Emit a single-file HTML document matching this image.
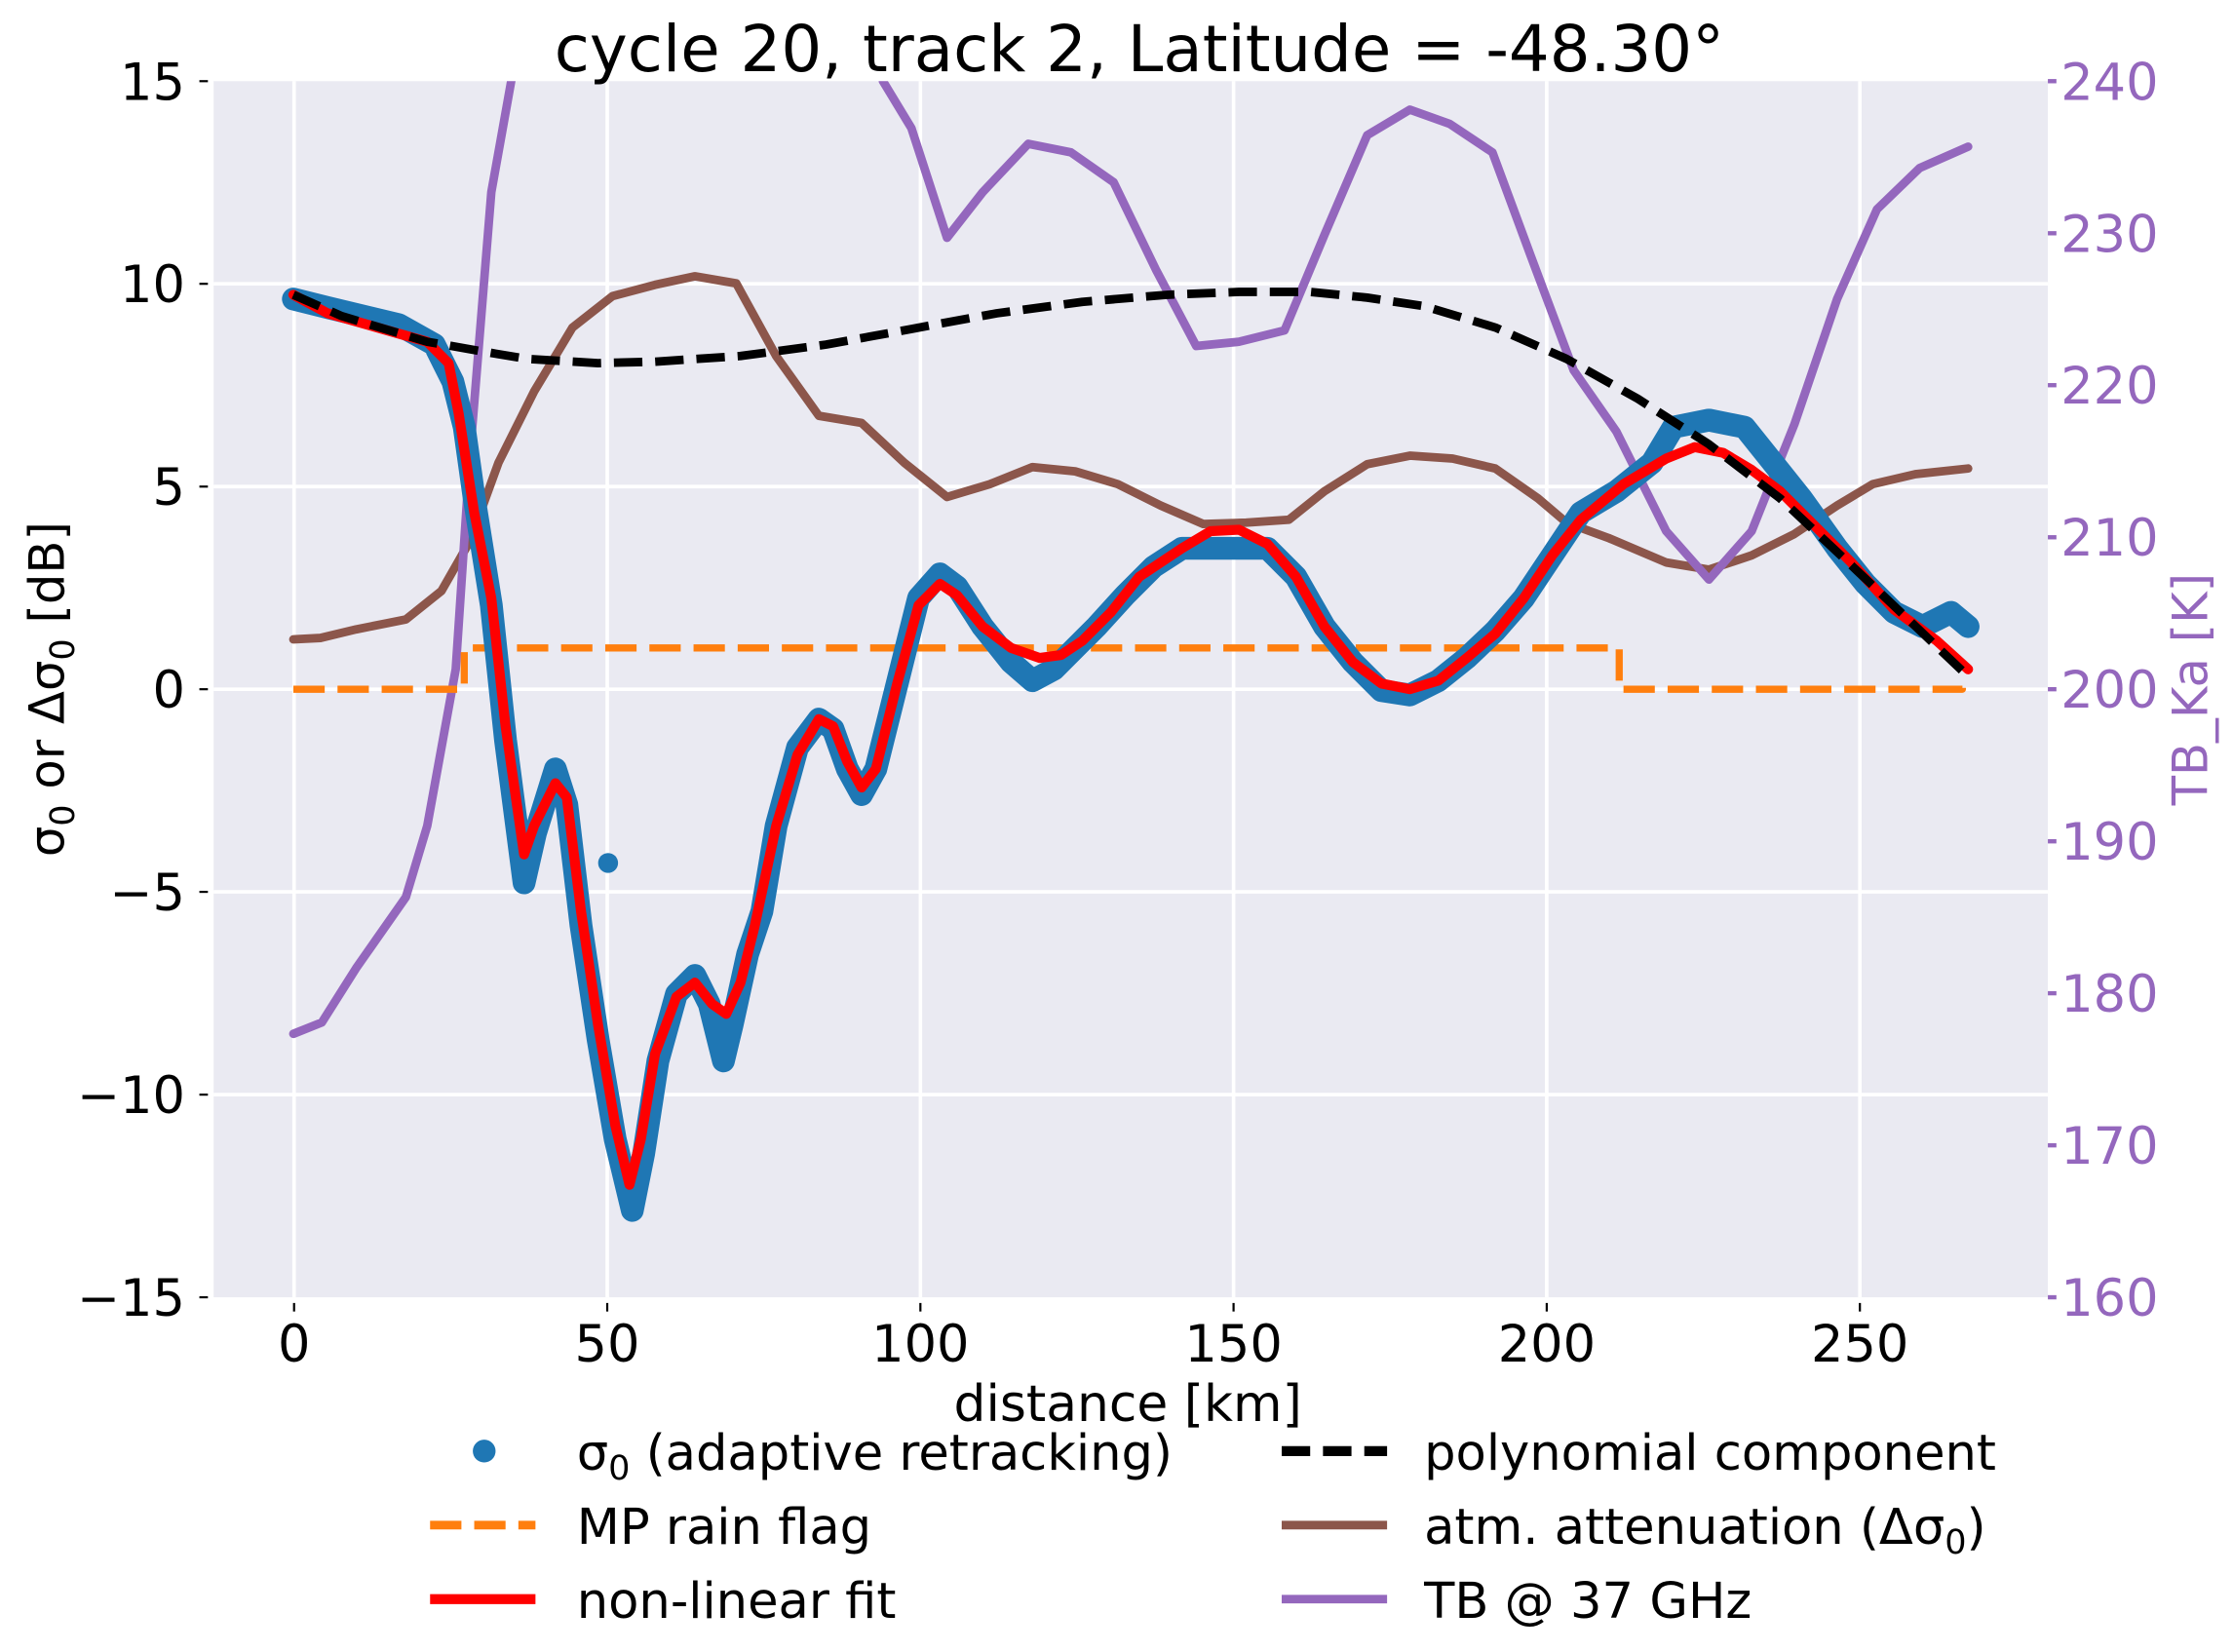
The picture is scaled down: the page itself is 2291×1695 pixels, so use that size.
<!DOCTYPE html>
<html><head><meta charset="utf-8"><style>
html,body{margin:0;padding:0;background:#fff;}
svg{display:block;}
text{font-family:"DejaVu Sans","Liberation Sans",sans-serif;}
</style></head><body>
<svg width="2291" height="1695" viewBox="0 0 1568 1160.1" preserveAspectRatio="none" xmlns="http://www.w3.org/2000/svg">
<defs><clipPath id="c"><rect x="150" y="57" width="1288" height="854"/></clipPath></defs>
<rect x="150" y="57" width="1288" height="854" fill="#eaeaf2"/>
<g stroke="#fff" stroke-width="2.5">
<line x1="206.5" y1="57" x2="206.5" y2="911"/><line x1="426.4" y1="57" x2="426.4" y2="911"/><line x1="646.3" y1="57" x2="646.3" y2="911"/><line x1="866.2" y1="57" x2="866.2" y2="911"/><line x1="1086.1" y1="57" x2="1086.1" y2="911"/><line x1="1306" y1="57" x2="1306" y2="911"/>
<line x1="150" y1="199.3" x2="1438" y2="199.3"/><line x1="150" y1="341.7" x2="1438" y2="341.7"/><line x1="150" y1="484" x2="1438" y2="484"/><line x1="150" y1="626.3" x2="1438" y2="626.3"/><line x1="150" y1="768.7" x2="1438" y2="768.7"/>
</g>
<g clip-path="url(#c)" fill="none" stroke-linejoin="round" stroke-linecap="round">
<path stroke="#8c564b" stroke-width="6" d="M206,449 L225,448 L250,442 L285,435 L310,415 L330,380 L350,325 L375,275 L402,230 L430,208 L460,200 L488,194 L517,199 L545,250 L575,292 L605,297 L635,325 L665,349 L695,340 L725,328 L755,331 L785,340 L815,355 L845,368 L875,367 L905,365 L930,345 L960,326 L990,320 L1020,322 L1050,329 L1080,350 L1100,367 L1130,378 L1170,395 L1200,400 L1230,390 L1260,375 L1290,355 L1315,340 L1345,333 L1382,329"/>
<path stroke="#9467bd" stroke-width="6" d="M206,726 L226,718 L250,680 L285,630 L300,580 L320,470 L330,320 L345,135 L362,40 L372,-100 L600,-100 L620,57 L640,90 L665,167 L690,135 L722,101 L752,107 L782,128 L812,190 L840,243 L870,240 L902,232 L930,165 L960,95 L990,77 L1018,87 L1048,107 L1075,180 L1105,260 L1135,303 L1170,373 L1200,407 L1230,373 L1260,298 L1290,210 L1318,147 L1348,118 L1382,103"/>
<path stroke="#ff7f0e" stroke-width="5" stroke-linecap="butt" stroke-dasharray="22,9" d="M206,484 L326,484 L326,455 L1137,455 L1137,484 L1378,484 L1378,476"/>
<path stroke="#1f77b4" stroke-width="16" d="M206,210 L230,216 L280,228 L305,242 L318,268 L326,300 L333,350 L345,425 L355,520 L368,620 L376,585 L390,540 L398,565 L408,650 L420,730 L432,800 L444,850 L452,810 L462,745 L475,698 L488,685 L498,705 L508,745 L514,720 L525,670 L535,640 L545,580 L560,525 L575,505 L585,512 L595,540 L605,558 L615,540 L630,480 L645,420 L660,403 L672,412 L690,440 L710,465 L725,478 L740,470 L755,455 L770,440 L790,418 L810,398 L830,385 L860,385 L890,385 L910,405 L930,440 L950,465 L970,485 L990,488 L1010,478 L1030,462 L1050,443 L1070,420 L1090,390 L1110,360 L1135,345 L1160,325 L1175,300 L1200,295 L1225,300 L1245,325 L1265,350 L1290,385 L1310,410 L1330,430 L1350,440 L1370,430 L1382,440"/>
<circle cx="427" cy="606" r="7" fill="#1f77b4" stroke="none"/>
<path stroke="#ff0000" stroke-width="7" d="M206,207 L230,220 L300,240 L315,255 L322,290 L333,360 L345,420 L355,510 L368,600 L375,580 L390,550 L398,560 L408,640 L420,720 L432,790 L442,832 L450,800 L460,740 L475,700 L488,690 L500,705 L510,712 L520,690 L530,650 L545,580 L560,530 L575,505 L585,510 L595,535 L605,553 L615,540 L630,480 L645,425 L660,410 L672,418 L690,440 L710,455 L730,462 L745,460 L760,450 L780,430 L800,405 L830,385 L850,373 L870,372 L890,382 L910,405 L930,440 L950,465 L970,480 L990,484 L1010,478 L1030,462 L1050,445 L1070,420 L1090,390 L1110,365 L1140,340 L1170,322 L1190,314 L1210,318 L1230,330 L1250,345 L1270,365 L1300,395 L1330,428 L1360,450 L1382,470"/>
<path stroke="#000" stroke-width="6" stroke-linecap="butt" stroke-dasharray="20,9" d="M206,207 L240,222 L300,240 L340,247 L370,252 L420,255 L460,254 L520,250 L580,242 L640,231 L700,220 L760,212 L820,207 L870,205 L920,205 L960,209 L1000,215 L1050,230 L1100,252 L1150,280 L1200,312 L1250,350 L1300,397 L1340,435 L1382,475"/>
</g>
<g stroke="#000" stroke-width="1.5">
<line x1="206.5" y1="915" x2="206.5" y2="921"/><line x1="426.4" y1="915" x2="426.4" y2="921"/><line x1="646.3" y1="915" x2="646.3" y2="921"/><line x1="866.2" y1="915" x2="866.2" y2="921"/><line x1="1086.1" y1="915" x2="1086.1" y2="921"/><line x1="1306" y1="915" x2="1306" y2="921"/>
<line x1="140" y1="57" x2="146" y2="57"/><line x1="140" y1="199.3" x2="146" y2="199.3"/><line x1="140" y1="341.7" x2="146" y2="341.7"/><line x1="140" y1="484" x2="146" y2="484"/><line x1="140" y1="626.3" x2="146" y2="626.3"/><line x1="140" y1="768.7" x2="146" y2="768.7"/><line x1="140" y1="911" x2="146" y2="911"/>
</g>
<g stroke="#9467bd" stroke-width="3">
<line x1="1438" y1="57" x2="1444" y2="57"/><line x1="1438" y1="163.8" x2="1444" y2="163.8"/><line x1="1438" y1="270.5" x2="1444" y2="270.5"/><line x1="1438" y1="377.3" x2="1444" y2="377.3"/><line x1="1438" y1="484" x2="1444" y2="484"/><line x1="1438" y1="590.8" x2="1444" y2="590.8"/><line x1="1438" y1="697.5" x2="1444" y2="697.5"/><line x1="1438" y1="804.3" x2="1444" y2="804.3"/><line x1="1438" y1="911" x2="1444" y2="911"/>
</g>
<g font-size="36" fill="#000" text-anchor="middle">
<text x="206.5" y="956">0</text><text x="426.4" y="956">50</text><text x="646.3" y="956">100</text><text x="866.2" y="956">150</text><text x="1086.1" y="956">200</text><text x="1306" y="956">250</text>
</g>
<g font-size="36" fill="#000" text-anchor="end">
<text x="130" y="70">15</text><text x="130" y="212.3">10</text><text x="130" y="354.7">5</text><text x="130" y="497">0</text><text x="130" y="639.3">−5</text><text x="130" y="781.7">−10</text><text x="130" y="924">−15</text>
</g>
<g font-size="36" fill="#9467bd">
<text x="1447" y="70">240</text><text x="1447" y="176.8">230</text><text x="1447" y="283.5">220</text><text x="1447" y="390.3">210</text><text x="1447" y="497">200</text><text x="1447" y="603.8">190</text><text x="1447" y="710.5">180</text><text x="1447" y="817.3">170</text><text x="1447" y="924">160</text>
</g>
<text x="800" y="50" font-size="45" text-anchor="middle">cycle 20, track 2, Latitude = -48.30°</text>
<text x="792" y="998" font-size="35.5" text-anchor="middle">distance [km]</text>
<text transform="translate(45,484) rotate(-90)" font-size="34" text-anchor="middle">σ<tspan font-size="24" dy="7">0</tspan><tspan dy="-7"> or Δσ</tspan><tspan font-size="24" dy="7">0</tspan><tspan dy="-7"> [dB]</tspan></text>
<text transform="translate(1550,484) rotate(-90)" font-size="34" fill="#9467bd" text-anchor="middle">TB_Ka [K]</text>
<g font-size="35" fill="#000">
<circle cx="340" cy="1019" r="8" fill="#1f77b4"/>
<text x="405" y="1032">σ<tspan font-size="24" dy="7">0</tspan><tspan dy="-7"> (adaptive retracking)</tspan></text>
<line x1="302" y1="1071" x2="376" y2="1071" stroke="#ff7f0e" stroke-width="6" stroke-dasharray="22,9"/>
<text x="405" y="1084">MP rain flag</text>
<line x1="302" y1="1123" x2="376" y2="1123" stroke="#ff0000" stroke-width="7"/>
<text x="405" y="1136">non-linear fit</text>
<line x1="900" y1="1019" x2="974" y2="1019" stroke="#000" stroke-width="7" stroke-dasharray="20,9"/>
<text x="1000" y="1032">polynomial component</text>
<line x1="900" y1="1071" x2="974" y2="1071" stroke="#8c564b" stroke-width="6"/>
<text x="1000" y="1084">atm. attenuation (Δσ<tspan font-size="24" dy="7">0</tspan><tspan dy="-7">)</tspan></text>
<line x1="900" y1="1123" x2="974" y2="1123" stroke="#9467bd" stroke-width="6"/>
<text x="1000" y="1136">TB @ 37 GHz</text>
</g>
</svg>
</body></html>
